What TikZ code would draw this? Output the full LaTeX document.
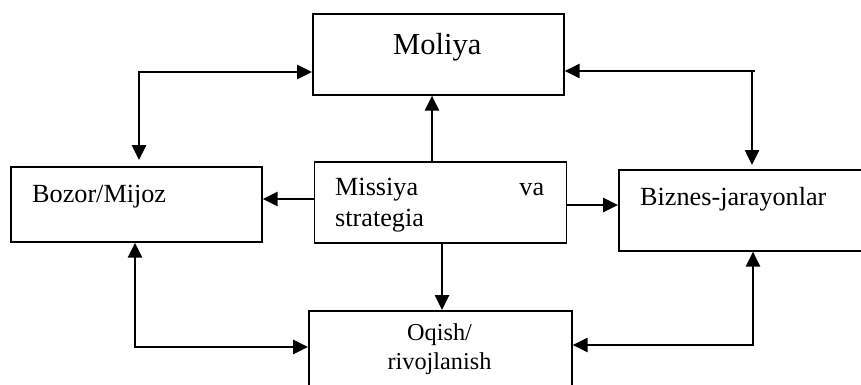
\documentclass[tikz,border=0pt]{standalone}
\usepackage{fontspec}
\setmainfont{Liberation Serif}
\usetikzlibrary{arrows.meta}
\begin{document}
\begin{tikzpicture}[x=1pt,y=-1pt,
  >={Triangle[length=15pt,width=14pt]},
  box/.style={draw, line width=1.6pt, rectangle, inner sep=0pt, anchor=north west},
  conn/.style={line width=2.6pt},
  lbl/.style={inner sep=0pt, font=\fontsize{26.2}{31}\selectfont}
]
\useasboundingbox (0,0) rectangle (861,385);
% boxes
\node[box, minimum width=251pt, minimum height=81pt] (moliya) at (312,13) {};
\node[box, minimum width=251pt, minimum height=75pt] (bozor) at (10,166) {};
\node[box, minimum width=252pt, minimum height=81pt] (missiya) at (313.5,161) {};
\node[box, minimum width=250pt, minimum height=81pt] (biznes) at (618,169) {};
\node[box, minimum width=263pt, minimum height=100pt] (oqish) at (308,310) {};
% texts
\node[lbl, font=\fontsize{30.5}{36}\selectfont, anchor=base west] (tmoliya) at (393,54.5) {Moliya};
\node[lbl, anchor=base west] (tbozor) at (32,202) {Bozor/Mijoz};
\node[lbl, anchor=base west, text width=209pt, align=left] (tmissiya) at (335,195.5) {Missiya\hfill va\\strategia};
\node[lbl, anchor=base west] (tbiznes) at (640,205) {Biznes-jarayonlar};
\node[lbl, font=\fontsize{24.3}{28.5}\selectfont, anchor=base, align=center] (toqish) at (439.5,369) {Oqish/\\rivojlanish};
% connectors
\coordinate (c1) at (139,72);
\draw[conn,<->, shorten <=6pt] (c1 |- bozor.north) -- (c1) -- (c1 -| moliya.west);
\coordinate (c2) at (432,0);
\draw[conn,->] (c2 |- missiya.north) -- (c2 |- moliya.south);
\coordinate (c3) at (752,71);
\coordinate (c3e) at (755,71);
\draw[conn,->] (c3e) -- (c3e -| moliya.east);
\draw[conn,->, shorten >=4pt] (c3) -- (c3 |- biznes.north);
\coordinate (c4) at (0,199);
\draw[conn,->] (c4 -| missiya.west) -- (c4 -| bozor.east);
\coordinate (c5) at (0,205);
\draw[conn,->] (c5 -| missiya.east) -- (c5 -| biznes.west);
\coordinate (c6) at (442,0);
\draw[conn,->] (c6 |- missiya.south) -- (c6 |- oqish.north);
\coordinate (c7) at (135,347);
\draw[conn,<->] (c7 |- bozor.south) -- (c7) -- (c7 -| oqish.west);
\coordinate (c8) at (753,345);
\draw[conn,<->] (c8 |- biznes.south) -- (c8) -- (c8 -| oqish.east);
\end{tikzpicture}
\end{document}
